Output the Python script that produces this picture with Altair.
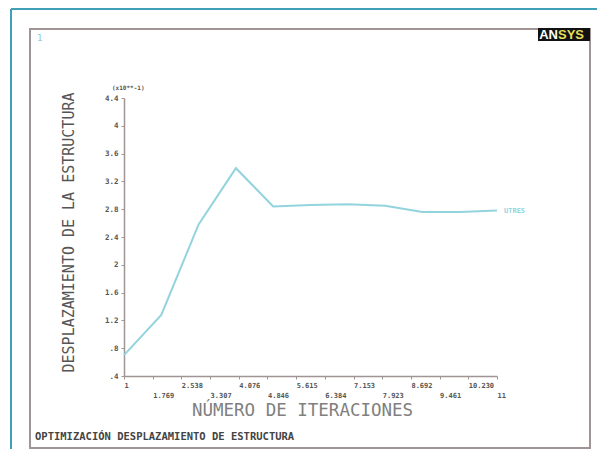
import json
import altair as alt
import pandas as pd

# ---- data ----
iterations = [1, 2, 3, 4, 5, 6, 7, 8, 9, 10, 11]
displacement = [0.70, 1.28, 2.58, 3.39, 2.84, 2.86, 2.87, 2.85, 2.76, 2.76, 2.78]

x_tick_labels = ["1", "1.769", "2.538", "3.307", "4.076", "4.846", "5.615",
                 "6.384", "7.153", "7.923", "8.692", "9.461", "10.230", "11"]
x_tick_values = [float(s) for s in x_tick_labels]
y_tick_labels = [".4", ".8", "1.2", "1.6", "2", "2.4", "2.8", "3.2", "3.6", "4", "4.4"]
y_tick_values = [float(s) for s in y_tick_labels]

df = pd.DataFrame({"iter": iterations, "disp": displacement})

MONO = "DejaVu Sans Mono"
AXIS_GRAY = "#a09494"
TXT = "#555555"
CYAN = "#93d3de"

x_label_expr = f"{json.dumps(x_tick_labels)}[indexof({json.dumps(x_tick_values)}, datum.value)]"
y_label_expr = f"{json.dumps(y_tick_labels)}[indexof({json.dumps(y_tick_values)}, datum.value)]"
x_pad = {
    "condition": {"test": f"indexof({json.dumps(x_tick_values)}, datum.value) % 2 == 1", "value": 12},
    "value": 2,
}

line = alt.Chart(df).mark_line(color=CYAN, strokeWidth=2).encode(
    x=alt.X("iter:Q",
            scale=alt.Scale(domain=[1, 11], nice=False, zero=False),
            axis=alt.Axis(values=x_tick_values, labelExpr=x_label_expr,
                          labelAlign="left", labelBaseline="top",
                          labelPadding=x_pad, labelOverlap=False, labelFlush=False,
                          labelFont=MONO, labelFontSize=7, labelColor=TXT,
                          labelFontWeight="bold",
                          tickSize=3, tickColor=AXIS_GRAY, domainColor=AXIS_GRAY,
                          domainWidth=1.5, grid=False,
                          title="NÚMERO DE ITERACIONES", titleFont=MONO,
                          titleFontSize=17.5, titleFontWeight="normal", titleColor="#808080",
                          titleX=178, titleY=34, titleAlign="center",
                          titleBaseline="middle")),
    y=alt.Y("disp:Q",
            scale=alt.Scale(domain=[0.4, 4.4], nice=False, zero=False),
            axis=alt.Axis(values=y_tick_values, labelExpr=y_label_expr,
                          labelFont=MONO, labelFontSize=7.5, labelColor=TXT,
                          labelFontWeight="bold", labelPadding=3,
                          labelOverlap=False, labelFlush=False,
                          tickSize=3, tickColor=AXIS_GRAY, domainColor=AXIS_GRAY,
                          domainWidth=1.5, grid=False,
                          title="DESPLAZAMIENTO DE LA ESTRUCTURA", titleFont=MONO,
                          titleFontSize=15, titleFontWeight="normal", titleColor=TXT,
                          titleAngle=270, titleX=-56, titleY=134,
                          titleAlign="center", titleBaseline="middle")),
)

one = alt.Data(values=[{"a": 1}])

def rule(x, x2, y, y2, color, w):
    return alt.Chart(one).mark_rule(color=color, strokeWidth=w).encode(
        x=alt.value(x), x2=alt.value(x2), y=alt.value(y), y2=alt.value(y2))

def text(t, x, y, size, color, align="left", weight="normal", font=MONO, angle=0):
    return alt.Chart(one).mark_text(
        text=t, align=align, baseline="middle", fontSize=size, color=color,
        fontWeight=weight, font=font, angle=angle).encode(
        x=alt.value(x), y=alt.value(y))

teal_left = rule(-113, -113, -89, 351, "#3fa0b8", 2)
teal_top = rule(-113, 480, -89, -89, "#3fa0b8", 2)

frame = alt.Chart(one).mark_rect(fillOpacity=0, stroke=AXIS_GRAY, strokeWidth=2).encode(
    x=alt.value(-94), x2=alt.value(466), y=alt.value(-69), y2=alt.value(350))

logo_box = alt.Chart(one).mark_rect(color="#111111").encode(
    x=alt.value(414), x2=alt.value(466), y=alt.value(-70), y2=alt.value(-57))
logo_an = text("AN", 434, -63.5, 13, "#ffffff", align="right", weight="bold",
               font="Liberation Sans")
logo_sys = text("SYS", 434, -63.5, 13, "#e6de5a", align="left", weight="bold",
                font="Liberation Sans")

win_num = text("1", -87, -60, 9, "#8ccad6")
scale_lbl = text("(x10**-1)", -12, -10, 6, TXT, weight="bold")
curve_lbl = text("UTRES", 380, 113, 7, CYAN, weight="bold")
bottom_lbl = text("OPTIMIZACIÓN DESPLAZAMIENTO DE ESTRUCTURA", -89, 339, 10.5, "#444444",
                  weight="bold")

chart = alt.layer(
    teal_left, teal_top, frame, logo_box, logo_an, logo_sys,
    win_num, scale_lbl, curve_lbl, bottom_lbl, line
).properties(
    width=373, height=278,
    background="white",
    autosize=alt.AutoSizeParams(type="none"),
    padding={"left": 116, "top": 90, "right": 100, "bottom": 73},
).configure_view(strokeWidth=0, stroke="transparent")

chart.save("out.html", embed_options={"renderer": "svg", "actions": False})
